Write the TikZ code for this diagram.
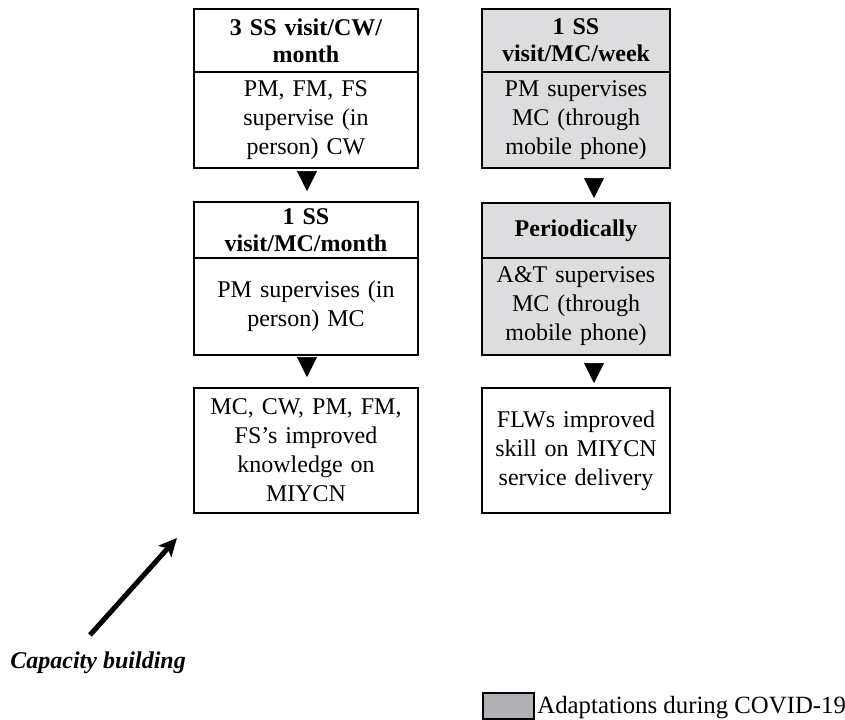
\documentclass[tikz,border=0pt]{standalone}
\usepackage{fontspec}
\setmainfont{Liberation Serif}
\usetikzlibrary{positioning,arrows.meta}
\begin{document}
\begin{tikzpicture}[x=0.5pt,y=-0.5pt]
        % Define colors
        \definecolor{covidgray}{RGB}{221,221,223}
        \definecolor{keygray}{RGB}{176,177,181}
        \tikzset{
            cell/.style={draw, line width=0.8pt, align=center, outer sep=0pt,
                inner xsep=2pt, inner ysep=1pt, font=\fontsize{12}{14.5}\selectfont},
            lcell/.style={cell, minimum width=112pt, text width=106pt},
            rcell/.style={cell, minimum width=94pt, text width=90pt, fill=covidgray},
            head/.style={font=\fontsize{12}{13.5}\selectfont\bfseries},
            ldown/.style={-{Triangle[length=10pt,width=10pt]}, line width=0.3pt,
                shorten <=1.5pt, shorten >=5.5pt},
            rdown/.style={-{Triangle[length=10pt,width=10pt]}, line width=0.3pt,
                shorten <=5pt, shorten >=2.5pt}
        }
        \useasboundingbox (0,0) rectangle (845,719);

        % Left column: in person
        \node[lcell, head, minimum height=31.5pt, anchor=north] (cwhead) at (306,9) {3 SS visit/CW/\\month};
        \node[lcell, minimum height=48pt, below=0pt of cwhead] (cwbody) {PM, FM, FS\\supervise (in\\person) CW};
        \node[lcell, head, minimum height=28pt, anchor=north] (mchead) at (306,202) {1 SS\\visit/MC/month};
        \node[lcell, minimum height=48.5pt, below=0pt of mchead] (mcbody) {PM supervises (in\\person) MC};
        \node[lcell, minimum height=62.5pt, anchor=north] (know) at (306,388) {MC, CW, PM, FM,\\FS's improved\\knowledge on\\MIYCN};

        % Right column: during COVID-19
        \node[rcell, head, minimum height=31.5pt, anchor=north] (wkhead) at (576,9) {1 SS\\visit/MC/week};
        \node[rcell, minimum height=48pt, below=0pt of wkhead] (wkbody) {PM supervises\\MC (through\\mobile phone)};
        \node[rcell, head, minimum height=27.5pt, anchor=north] (perhead) at (576,203) {Periodically};
        \node[rcell, minimum height=48.5pt, below=0pt of perhead] (perbody) {A\&T supervises\\MC (through\\mobile phone)};
        \node[rcell, fill=none, minimum height=62.5pt, anchor=north] (skill) at (576,388) {FLWs improved\\skill on MIYCN\\service delivery};

        % Arrows
        \draw[ldown] ([xshift=0.5pt]cwbody.south) -- ([xshift=0.5pt]mchead.north);
        \draw[ldown] ([xshift=0.5pt]mcbody.south) -- ([xshift=0.5pt]know.north);
        \draw[rdown] ([xshift=9pt]wkbody.south) -- ([xshift=9pt]perhead.north);
        \draw[rdown] ([xshift=9pt]perbody.south) -- ([xshift=9pt]skill.north);

        % Capacity building
        \node[anchor=west, inner sep=0pt, font=\fontsize{12}{14}\selectfont\bfseries\itshape] (cap) at (10,663) {Capacity building};
        \coordinate (capstart) at (90,635);
        \coordinate (captip) at (177,538);
        \draw[line width=2.5pt, -{Stealth[length=9pt,width=8.5pt,inset=2pt]}] (capstart) -- (captip);

        % Legend
        \node[draw, fill=keygray, line width=0.8pt, minimum width=25.5pt, minimum height=13pt,
            anchor=north west, inner sep=0pt] (keybox) at (482,692) {};
        \node[anchor=base west, inner sep=0pt, font=\fontsize{12.4}{14}\selectfont] (keytext) at (537,713) {Adaptations during COVID-19};

    \end{tikzpicture}
\end{document}
